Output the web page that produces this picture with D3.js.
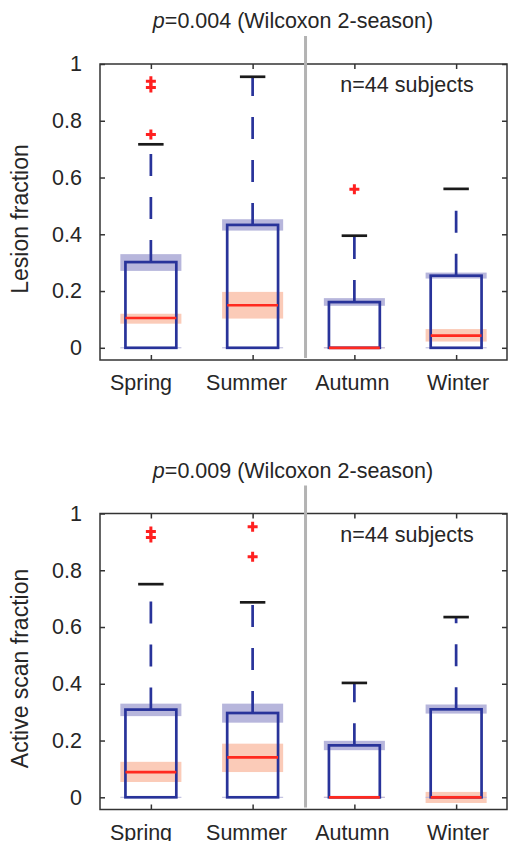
<!DOCTYPE html>
<html>
<head>
<meta charset="utf-8">
<script src="https://cdn.jsdelivr.net/npm/d3@7"></script>
<style>
  body { margin: 0; background: #fff; }
  text { font-family: "Liberation Sans", Arial, sans-serif; fill: #262626; }
</style>
</head>
<body>
<svg id="chart" width="508" height="841"></svg>
<script>
// seasons + tick labels
var seasons = ["Spring", "Summer", "Autumn", "Winter"];
var yTicks = [0, 0.2, 0.4, 0.6, 0.8, 1];

// panel 1 : lesion fraction
var lesionQ1 = [0, 0, 0, 0];
var lesionMed = [0.105, 0.150, 0, 0.043];
var lesionQ3 = [0.302, 0.433, 0.161, 0.254];
var lesionHi = [0.717, 0.955, 0.395, 0.560];
var lesionMedCI = [[0.085, 0.120], [0.103, 0.197], [0, 0], [0.022, 0.066]];
var lesionQ3CI = [[0.271, 0.330], [0.413, 0.453], [0.148, 0.175], [0.244, 0.265]];
var lesionOut = [[0.752, 0.917, 0.939], [], [0.559], []];

// panel 2 : active scan fraction
var activeQ1 = [0, 0, 0, 0];
var activeMed = [0.089, 0.141, 0, 0];
var activeQ3 = [0.309, 0.297, 0.183, 0.310];
var activeHi = [0.751, 0.687, 0.403, 0.635];
var activeMedCI = [[0.054, 0.125], [0.089, 0.189], [0, 0], [-0.020, 0.019]];
var activeQ3CI = [[0.286, 0.330], [0.263, 0.330], [0.166, 0.199], [0.295, 0.327]];
var activeOut = [[0.915, 0.937], [0.848, 0.953], [], []];

var svg = d3.select('#chart');
var x = d3.scaleLinear().domain([0.5, 4.5]).range([100, 507]);
var xLab = d3.scalePoint().domain(seasons).range([141, 458]);

var boxCol = '#28339a', medCol = '#ff2a1f', bandBlue = '#b7b6dc', bandRed = '#fbcbb8';

function panel(top, title, ylabel, q1, med, q3, hi, medCI, q3CI, outl){
  var y = d3.scaleLinear().domain([-0.043, 1]).range([top + 296, top]);
  var g = svg.append('g');
  var bottom = y(-0.043);

  // bands
  seasons.forEach(function(s, i){
    var c = i + 1;
    [[q3CI[i], bandBlue], [medCI[i], bandRed], [[q1[i], q1[i]], bandBlue]].forEach(function(b){
      var h = Math.max(y(b[0][0]) - y(b[0][1]), 1);
      g.append('rect')
        .attr('x', x(c - 0.3)).attr('width', x(c + 0.3) - x(c - 0.3))
        .attr('y', (y(b[0][0]) + y(b[0][1])) / 2 - h / 2).attr('height', h)
        .attr('fill', b[1]);
    });
  });

  seasons.forEach(function(s, i){
    var c = i + 1;
    // whisker
    g.append('line').attr('x1', x(c)).attr('x2', x(c))
      .attr('y1', y(q3[i])).attr('y2', y(hi[i]))
      .attr('stroke', boxCol).attr('stroke-width', 2.7).attr('stroke-dasharray', '22,21');
    g.append('line').attr('x1', x(c - 0.125)).attr('x2', x(c + 0.125))
      .attr('y1', y(hi[i])).attr('y2', y(hi[i]))
      .attr('stroke', '#1a1a1a').attr('stroke-width', 2.7);
    // box
    g.append('rect').attr('x', x(c - 0.25)).attr('width', x(c + 0.25) - x(c - 0.25))
      .attr('y', y(q3[i])).attr('height', y(q1[i]) - y(q3[i]))
      .attr('fill', 'none').attr('stroke', boxCol).attr('stroke-width', 2.7);
    g.append('line').attr('x1', x(c - 0.25)).attr('x2', x(c + 0.25))
      .attr('y1', y(med[i])).attr('y2', y(med[i]))
      .attr('stroke', medCol).attr('stroke-width', 2.7);
    // outliers
    outl[i].forEach(function(v){
      g.append('path')
        .attr('d', 'M' + (x(c) - 5) + ',' + y(v) + 'h10M' + x(c) + ',' + (y(v) - 5) + 'v10')
        .attr('stroke', '#ff2020').attr('stroke-width', 3);
    });
  });

  // axes frame
  g.append('rect').attr('x', x(0.5)).attr('y', top).attr('width', x(4.5) - x(0.5))
    .attr('height', bottom - top).attr('fill', 'none').attr('stroke', '#333').attr('stroke-width', 1.5);

  var fmt = function(d){ return String(d); };
  var axL = g.append('g').attr('transform', 'translate(' + x(0.5) + ',0)')
    .call(d3.axisLeft(y).tickValues(yTicks).tickSize(-5).tickPadding(18).tickFormat(fmt));
  var axR = g.append('g').attr('transform', 'translate(' + x(4.5) + ',0)')
    .call(d3.axisRight(y).tickValues(yTicks).tickSize(-5).tickFormat(''));
  var axT = g.append('g').attr('transform', 'translate(0,' + top + ')')
    .call(d3.axisTop(x).tickValues([1, 2, 3, 4]).tickSize(-5).tickFormat(''));
  var axB = g.append('g').attr('transform', 'translate(0,' + bottom + ')')
    .call(d3.axisBottom(x).tickValues([1, 2, 3, 4]).tickSize(-5).tickFormat(''));
  [axL, axR, axT, axB].forEach(function(a){
    a.select('.domain').remove();
    a.selectAll('line').attr('stroke', '#333').attr('stroke-width', 1.5);
    a.selectAll('text').attr('font-size', 21.5).attr('fill', '#262626')
      .style('font-family', '"Liberation Sans", Arial, sans-serif');
  });

  // season divider
  g.append('line').attr('x1', x(2.52)).attr('x2', x(2.52))
    .attr('y1', top - 28).attr('y2', bottom - 2)
    .attr('stroke', '#b3b3b3').attr('stroke-width', 3);

  // labels
  g.selectAll('.xl').data(seasons).enter().append('text')
    .attr('x', function(d){ return xLab(d); }).attr('y', bottom + 30)
    .attr('text-anchor', 'middle').attr('font-size', 21.5).text(function(d){ return d; });

  var t = g.append('text').attr('x', 293).attr('y', top - 36)
    .attr('text-anchor', 'middle').attr('font-size', 21.5);
  t.append('tspan').attr('font-style', 'italic').text('p');
  t.append('tspan').text(title);

  g.append('text').attr('x', 407).attr('y', top + 28)
    .attr('text-anchor', 'middle').attr('font-size', 21.5).text('n=44 subjects');

  g.append('text').attr('transform', 'translate(28,' + (top + 155) + ') rotate(-90)')
    .attr('text-anchor', 'middle').attr('font-size', 23).text(ylabel);
}

panel(64, '=0.004 (Wilcoxon 2-season)', 'Lesion fraction',
  lesionQ1, lesionMed, lesionQ3, lesionHi, lesionMedCI, lesionQ3CI, lesionOut);
panel(513.5, '=0.009 (Wilcoxon 2-season)', 'Active scan fraction',
  activeQ1, activeMed, activeQ3, activeHi, activeMedCI, activeQ3CI, activeOut);
</script>
</body>
</html>
